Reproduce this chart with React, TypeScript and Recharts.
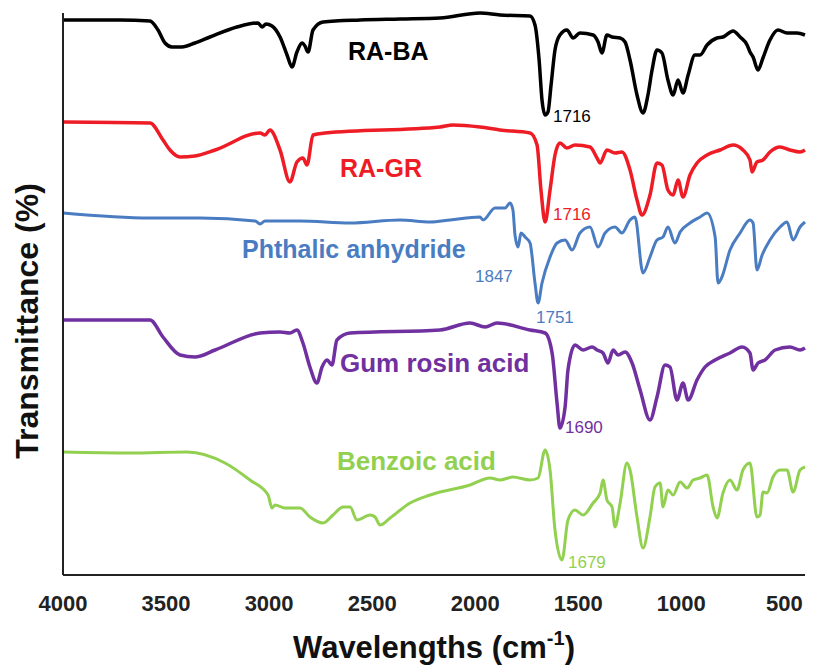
import React from "react";
import { LineChart, Line, XAxis, YAxis } from "recharts";

// wavenumber (cm-1), offset transmittance (arbitrary units, stacked)
const raBa: [number, number][] = [
  [4000, 555], [3723, 555], [3578, 554], [3539, 545], [3505, 532], [3471, 528], [3423, 528],
  [3360, 532], [3287, 538], [3156, 548], [3054, 552], [3034, 548], [3015, 551], [2986, 549],
  [2947, 538], [2913, 520], [2889, 508], [2865, 523], [2840, 532], [2826, 529], [2811, 523],
  [2787, 545], [2738, 553], [2559, 555], [2365, 556], [2171, 557], [1977, 562], [1880, 560],
  [1734, 559], [1710, 550], [1690, 515], [1676, 475], [1661, 460], [1647, 463], [1632, 490],
  [1613, 525], [1589, 540], [1555, 545], [1525, 537], [1492, 542], [1428, 540], [1404, 533],
  [1385, 522], [1361, 540], [1336, 538], [1297, 537], [1273, 533], [1249, 515], [1215, 480],
  [1186, 462], [1162, 480], [1142, 505], [1118, 525], [1094, 522], [1065, 495], [1040, 480],
  [1016, 495], [992, 482], [967, 500], [934, 520], [909, 520], [875, 530], [827, 537],
  [798, 538], [749, 544], [715, 538], [681, 530], [667, 523], [652, 518], [628, 505],
  [604, 517], [570, 535], [531, 545], [487, 542], [439, 542], [400, 540],
];

const raGr: [number, number][] = [
  [4000, 453], [3578, 452], [3515, 435], [3481, 425], [3432, 418], [3360, 419], [3262, 425],
  [3044, 442], [3020, 440], [2996, 445], [2947, 425], [2899, 393], [2865, 413], [2836, 417],
  [2816, 410], [2787, 440], [2729, 442], [2171, 448], [2108, 450], [1977, 448], [1880, 445],
  [1734, 442], [1700, 430], [1681, 385], [1661, 353], [1637, 385], [1613, 420], [1589, 432],
  [1555, 427], [1516, 430], [1443, 428], [1409, 417], [1394, 412], [1361, 425], [1322, 422],
  [1288, 423], [1249, 405], [1215, 375], [1191, 360], [1152, 380], [1118, 412], [1094, 410],
  [1065, 385], [1040, 380], [1016, 395], [992, 378], [958, 400], [924, 412], [875, 420],
  [812, 425], [749, 430], [701, 425], [667, 415], [657, 403], [633, 413], [604, 415],
  [570, 423], [521, 428], [473, 425], [424, 423], [400, 425],
];

const phthalic: [number, number][] = [
  [4000, 362], [3578, 357], [3335, 357], [3068, 354], [3044, 351], [3020, 354], [2850, 354],
  [2607, 352], [2365, 355], [2219, 353], [2122, 355], [1977, 358], [1962, 355], [1904, 367],
  [1855, 367], [1831, 372], [1817, 365], [1807, 340], [1792, 328], [1778, 342], [1758, 338],
  [1734, 332], [1710, 292], [1695, 272], [1676, 292], [1637, 318], [1603, 332], [1564, 335],
  [1530, 325], [1492, 342], [1443, 348], [1404, 328], [1370, 342], [1322, 348], [1288, 342],
  [1249, 355], [1225, 358], [1186, 302], [1152, 318], [1118, 335], [1089, 338], [1065, 348],
  [1031, 332], [1006, 343], [958, 352], [909, 358], [875, 362], [836, 338], [822, 292],
  [803, 298], [764, 325], [715, 342], [667, 355], [652, 352], [633, 305], [608, 320],
  [570, 335], [521, 348], [487, 353], [458, 335], [424, 348], [400, 353],
];

const gumRosin: [number, number][] = [
  [4000, 255], [3578, 255], [3515, 238], [3432, 220], [3360, 218], [3262, 225], [3044, 242],
  [2947, 243], [2899, 242], [2865, 245], [2836, 232], [2802, 208], [2768, 192], [2743, 208],
  [2719, 215], [2695, 210], [2671, 235], [2607, 242], [2171, 245], [2025, 252], [1952, 248],
  [1894, 252], [1734, 245], [1661, 242], [1627, 222], [1603, 172], [1589, 147], [1564, 168],
  [1550, 205], [1516, 230], [1477, 225], [1433, 228], [1409, 225], [1380, 222], [1356, 212],
  [1331, 225], [1307, 220], [1273, 223], [1239, 212], [1200, 185], [1152, 155], [1118, 178],
  [1079, 210], [1055, 208], [1021, 175], [992, 192], [967, 175], [924, 195], [885, 208],
  [836, 215], [764, 222], [705, 228], [667, 222], [652, 205], [628, 212], [594, 215],
  [545, 225], [473, 228], [424, 225], [400, 227],
];

const benzoic: [number, number][] = [
  [4000, 123], [3675, 122], [3398, 123], [3214, 112], [3093, 95], [3005, 80], [2986, 67],
  [2971, 70], [2923, 67], [2850, 67], [2802, 58], [2738, 52], [2690, 60], [2641, 68],
  [2607, 68], [2574, 55], [2510, 60], [2486, 58], [2462, 50], [2413, 57], [2316, 72],
  [2219, 80], [2025, 90], [1928, 97], [1880, 95], [1817, 98], [1734, 95], [1695, 97],
  [1661, 125], [1637, 105], [1613, 45], [1579, 15], [1550, 55], [1516, 65], [1477, 60],
  [1428, 72], [1394, 82], [1380, 95], [1361, 75], [1336, 68], [1322, 48], [1297, 72],
  [1264, 112], [1249, 105], [1215, 58], [1186, 27], [1152, 58], [1128, 88], [1103, 92],
  [1089, 68], [1065, 85], [1040, 80], [1006, 93], [972, 87], [943, 95], [909, 97],
  [875, 100], [846, 68], [827, 57], [798, 82], [764, 95], [730, 85], [701, 105],
  [667, 112], [633, 58], [618, 60], [604, 83], [584, 82], [555, 98], [521, 105],
  [487, 105], [458, 83], [424, 105], [400, 108],
];

const xTicks = [4000, 3500, 3000, 2500, 2000, 1500, 1000, 500];

const series = [
  { name: "RA-BA", color: "#000000", width: 3.5, points: raBa },
  { name: "RA-GR", color: "#ee1c25", width: 3.5, points: raGr },
  { name: "Phthalic anhydride", color: "#4a7cc2", width: 3, points: phthalic },
  { name: "Gum rosin acid", color: "#7030a0", width: 3.5, points: gumRosin },
  { name: "Benzoic acid", color: "#92d050", width: 3, points: benzoic },
];

const toRows = (pts: [number, number][]) => pts.map(([w, v]) => ({ w, v }));

const font = "'Liberation Sans', Arial, sans-serif";

export default function App() {
  return (
    <div style={{ position: "absolute", left: 0, top: 0, width: 814, height: 670, background: "#fff" }}>
      <LineChart width={814} height={670} margin={{ top: 13, right: 9, bottom: 65, left: 3 }}>
        <XAxis
          type="number"
          dataKey="w"
          domain={[400, 4000]}
          reversed
          ticks={xTicks}
          interval={0}
          tickLine={false}
          tickSize={6}
          tickMargin={14}
          height={30}
          axisLine={{ stroke: "#222", strokeWidth: 2 }}
          tick={{ fill: "#222", fontSize: 22, fontWeight: "bold", fontFamily: font }}
        />
        <YAxis
          type="number"
          domain={[0, 562]}
          width={60}
          tick={false}
          tickLine={false}
          axisLine={{ stroke: "#222", strokeWidth: 2 }}
        />
        {series.map((s) => (
          <Line
            key={s.name}
            data={toRows(s.points)}
            dataKey="v"
            type="monotoneX"
            stroke={s.color}
            strokeWidth={s.width}
            strokeLinejoin="round"
            dot={false}
            isAnimationActive={false}
          />
        ))}
      </LineChart>
      <svg
        width={814}
        height={670}
        style={{ position: "absolute", left: 0, top: 0, pointerEvents: "none" }}
        fontFamily={font}
      >
        <text x={348} y={60} fontSize={25} fontWeight="bold" fill="#000">RA-BA</text>
        <text x={340} y={177} fontSize={25} fontWeight="bold" fill="#ee1c25">RA-GR</text>
        <text x={242} y={258} fontSize={25} fontWeight="bold" fill="#4a7cc2">Phthalic anhydride</text>
        <text x={340} y={372} fontSize={26} fontWeight="bold" fill="#7030a0">Gum rosin acid</text>
        <text x={337} y={470} fontSize={26} fontWeight="bold" fill="#92d050">Benzoic acid</text>

        <text x={553} y={122} fontSize={17} fill="#000">1716</text>
        <text x={553} y={220} fontSize={17} fill="#ee1c25">1716</text>
        <text x={475} y={282} fontSize={17} fill="#4a7cc2">1847</text>
        <text x={536} y={323} fontSize={17} fill="#4a7cc2">1751</text>
        <text x={565} y={433} fontSize={17} fill="#7030a0">1690</text>
        <text x={568} y={568} fontSize={17} fill="#92d050">1679</text>

        <text
          x={38}
          y={321}
          fontSize={32}
          fontWeight="bold"
          fill="#111"
          textAnchor="middle"
          transform="rotate(-90 38 321)"
        >
          Transmittance (%)
        </text>
        <text x={434} y={658} fontSize={31} fontWeight="bold" fill="#111" textAnchor="middle">
          Wavelengths (cm
          <tspan fontSize={20} dy={-13}>-1</tspan>
          <tspan dy={13}>)</tspan>
        </text>
      </svg>
    </div>
  );
}
